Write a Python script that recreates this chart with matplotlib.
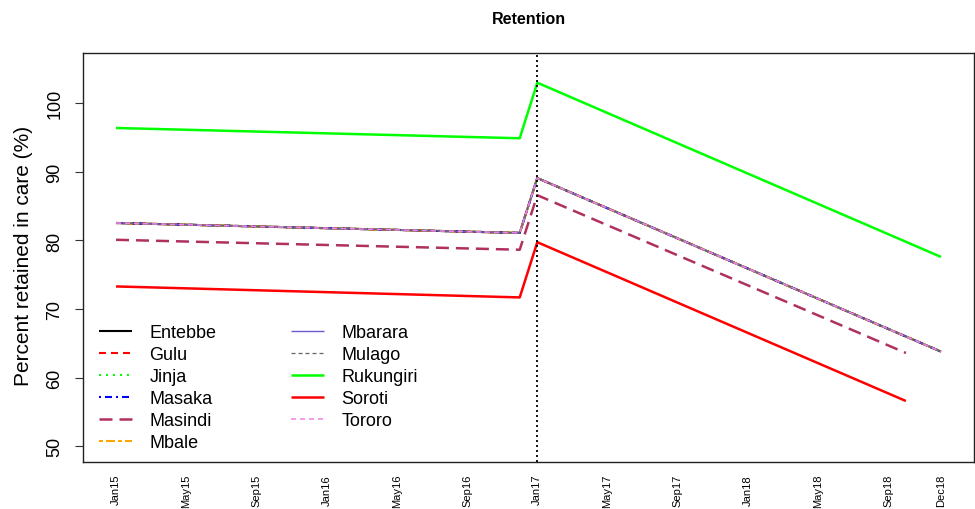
import matplotlib
matplotlib.use("Agg")
import matplotlib.pyplot as plt

plt.rcParams["font.family"] = ["Liberation Sans", "DejaVu Sans"]
plt.rcParams["lines.scale_dashes"] = False

# Month index 0 = Jan 2015
month_labels = ["Jan15", "May15", "Sep15", "Jan16", "May16", "Sep16", "Jan17",
                "May17", "Sep17", "Jan18", "May18", "Sep18", "Dec18"]
month_ticks = [0, 4, 8, 12, 16, 20, 24, 28, 32, 36, 40, 44, 47]

# Vertices of each series: Jan15, Dec16, Jan17, last month reported
months_full = [0, 23, 24, 47]
months_short = [0, 23, 24, 45]

entebbe = [82.55, 81.1, 89.1, 63.8]
gulu = [82.55, 81.1, 89.1, 63.8]
jinja = [82.55, 81.1, 89.1, 63.8]
masaka = [82.55, 81.1, 89.1, 63.8]
masindi = [80.1, 78.65, 86.6, 63.6]
mbale = [82.55, 81.1, 89.1, 63.8]
mbarara = [82.55, 81.1, 89.1, 63.8]
mulago = [82.55, 81.1, 89.1, 63.8]
rukungiri = [96.4, 94.9, 103.0, 77.6]
soroti = [73.3, 71.7, 79.75, 56.6]
tororo = [82.55, 81.1, 89.1, 63.8]

px = 0.72  # one pixel in points at 100 dpi

series = [
    ("Entebbe", months_full, entebbe, "#000000", 1.5, "-"),
    ("Gulu", months_full, gulu, "#FF0000", 1.5, (0, (7 * px, 5 * px))),
    ("Jinja", months_full, jinja, "#00FF00", 1.5, (0, (2 * px, 5 * px))),
    ("Masaka", months_full, masaka, "#0000FF", 1.5, (0, (2 * px, 4 * px, 7 * px, 4 * px))),
    ("Masindi", months_short, masindi, "#B03060", 1.8, (0, (13 * px, 7 * px))),
    ("Mbale", months_full, mbale, "#FFA500", 1.5, (0, (4 * px, 3 * px, 9 * px, 3 * px))),
    ("Mbarara", months_full, mbarara, "#6A5ACD", 1.0, "-"),
    ("Mulago", months_full, mulago, "#666666", 0.9, (0, (4 * px, 3 * px))),
    ("Rukungiri", months_full, rukungiri, "#00FF00", 1.8, "-"),
    ("Soroti", months_short, soroti, "#FF0000", 1.8, "-"),
    ("Tororo", months_full, tororo, "#EE82EE", 1.1, (0, (5 * px, 4 * px))),
]

fig = plt.figure(figsize=(9.75, 5.1), dpi=100)
W, H = 975, 510
left, right, top, bottom = 83, 974, 54, 462.5
ax = fig.add_axes([left / W, 1 - bottom / H, (right - left) / W, (bottom - top) / H])

handles = []
for name, xs, ys, color, lw, ls in series:
    (ln,) = ax.plot(xs, ys, color=color, lw=lw, linestyle=ls, label=name,
                    solid_capstyle="butt", dash_capstyle="butt")
    handles.append(ln)

ax.axvline(24, color="#000000", lw=1.3, linestyle=(0, (2 * px, 3 * px)))

ax.set_xlim(-1.88, 48.88)
ax.set_ylim(47.78, 107.33)

ax.set_xticks(month_ticks)
ax.set_xticklabels(month_labels, rotation=90, fontsize=8)
ax.tick_params(axis="x", length=0, pad=9)

ax.set_yticks([50, 60, 70, 80, 90, 100])
ax.set_yticklabels(["50", "60", "70", "80", "90", "100"], rotation=90,
                   fontsize=13, va="center")
ax.tick_params(axis="y", length=6, width=0.8, pad=8, color="#333333")

for sp in ax.spines.values():
    sp.set_linewidth(1.0)
    sp.set_color("#222222")

fig.text(24 / W, 1 - 256 / H, "Percent retained in care (%)", rotation=90,
         fontsize=15, ha="center", va="center")
fig.text(528.5 / W, 1 - 20 / H, "Retention", fontsize=11.5, fontweight="bold",
         ha="center", va="center")

ax.legend(handles=handles, ncol=2, frameon=False, fontsize=13,
          loc="upper left", bbox_to_anchor=(99 / W, 1 - 325 / H),
          bbox_transform=fig.transFigure, borderpad=0, borderaxespad=0,
          handlelength=1.85, handletextpad=0.95, columnspacing=4.1,
          labelspacing=0.28)

fig.savefig("out.png", dpi=100)
